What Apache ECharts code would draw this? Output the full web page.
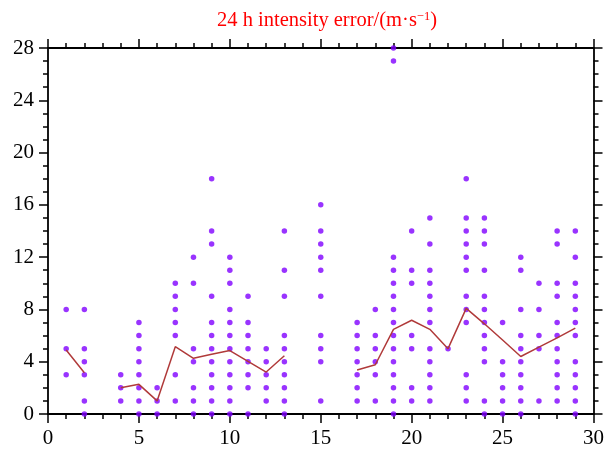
<!DOCTYPE html>
<html>
<head>
<meta charset="utf-8">
<script src="https://cdn.jsdelivr.net/npm/echarts@6/dist/echarts.min.js"></script>
<style>
html,body{margin:0;padding:0;background:#fff;}
#chart{width:607px;height:452px;}
</style>
</head>
<body>
<div id="chart"></div>
<script>
// Lead/sample index along x
const xValues = [1,2,3,4,5,6,7,8,9,10,11,12,13,14,15,16,17,18,19,20,21,22,23,24,25,26,27,28,29];
// Individual 24 h intensity errors at each x
const errorsByX = [
  [8,5,3],
  [8,5,4,3,1,0],
  [],
  [3,2,1],
  [7,6,5,4,3,2,1,0],
  [2,1,0],
  [10,9,8,7,6,3,1],
  [12,10,5,4,2,1,0],
  [18,14,13,9,7,6,5,4,3,2,1,0],
  [12,11,10,8,7,6,5,4,3,2,1,0],
  [9,7,6,5,4,3,2,0],
  [5,4,3,2,1],
  [14,11,9,6,5,4,3,2,1,0],
  [],
  [16,14,13,12,11,9,6,5,4,1],
  [],
  [7,6,5,4,3,2,1],
  [8,6,5,4,3,1],
  [28,27,12,11,10,9,8,7,6,5,4,3,2,1,0],
  [14,11,10,6,5,2,1],
  [15,13,11,10,9,8,7,5,4,3,2,1],
  [5],
  [18,15,14,13,12,11,9,8,7,3,2,1],
  [15,14,13,11,9,8,7,6,5,4,1,0],
  [7,4,3,2,1,0],
  [12,11,8,6,5,4,3,2,1,0],
  [10,8,6,5,1],
  [14,13,10,9,7,6,5,4,3,2,1],
  [14,12,10,9,8,7,6,4,3,2,1,0]
];
// Mean error line (null = gap)
const meanError = [4.9,3.16,null,2.0,2.27,1.0,5.15,4.26,4.57,4.85,4.03,3.21,4.46,null,null,null,3.37,3.77,6.48,7.17,6.48,5.0,8.08,6.9,5.66,4.4,5.11,5.83,6.57];
const xTicks = [0,5,10,15,20,25,30];
const yTicks = [0,4,8,12,16,20,24,28];

const scatterData = [];
xValues.forEach((x, i) => errorsByX[i].forEach(v => scatterData.push([x, v])));
const lineData = xValues.map((x, i) => [x, meanError[i]]);

const FONT = '"Liberation Serif", "Times New Roman", serif';
const axisLine = {show: true, onZero: false, lineStyle: {color: '#000', width: 1.8}};
const tickStyle = {color: '#000', width: 1.5};

function xAxisCfg(pos, showLabel) {
  return {
    type: 'value', position: pos, min: 0, max: 30, interval: 5,
    axisLine: axisLine,
    axisTick: {show: true, inside: false, length: 9, lineStyle: tickStyle},
    minorTick: {show: true, splitNumber: 5, length: 5, lineStyle: tickStyle},
    splitLine: {show: false},
    axisLabel: {show: showLabel, color: '#000', fontSize: 21, fontFamily: FONT, margin: 14,
      formatter: v => xTicks.includes(v) ? String(v) : ''}
  };
}
function yAxisCfg(pos, showLabel) {
  return {
    type: 'value', position: pos, min: 0, max: 28, interval: 4,
    axisLine: axisLine,
    axisTick: {show: true, inside: false, length: 9, lineStyle: tickStyle},
    minorTick: {show: true, splitNumber: 4, length: 5, lineStyle: tickStyle},
    splitLine: {show: false},
    axisLabel: {show: showLabel, color: '#000', fontSize: 21, fontFamily: FONT, margin: 14,
      formatter: v => yTicks.includes(v) ? String(v) : ''}
  };
}

const chart = echarts.init(document.getElementById('chart'), null, {renderer: 'canvas'});
chart.setOption({
  animation: false,
  backgroundColor: '#fff',
  title: {
    text: '{a|24 h intensity error/(m·s}{sup|−1}{a|)}',
    left: 322, top: 5, textAlign: 'center',
    textStyle: {
      fontWeight: 'normal',
      rich: {
        a: {fontFamily: FONT, fontSize: 20.5, fontWeight: 'normal', color: '#ff0000'},
        sup: {fontFamily: FONT, fontSize: 12.5, fontWeight: 'normal', color: '#ff0000', padding: [0,0,9,0], verticalAlign: 'bottom'}
      }
    }
  },
  grid: {left: 48, right: 10.5, top: 48, bottom: 38, containLabel: false},
  xAxis: [xAxisCfg('bottom', true), xAxisCfg('top', false)],
  yAxis: [yAxisCfg('left', true), yAxisCfg('right', false)],
  series: [
    {
      type: 'scatter', xAxisIndex: 0, yAxisIndex: 0,
      data: scatterData, symbol: 'circle', symbolSize: 5.5,
      itemStyle: {color: '#7f00ff'}, clip: true
    },
    {
      type: 'line', xAxisIndex: 0, yAxisIndex: 0,
      data: lineData, showSymbol: false, connectNulls: false,
      lineStyle: {color: '#b03a3a', width: 1.5}, z: 3
    }
  ]
});
</script>
</body>
</html>
